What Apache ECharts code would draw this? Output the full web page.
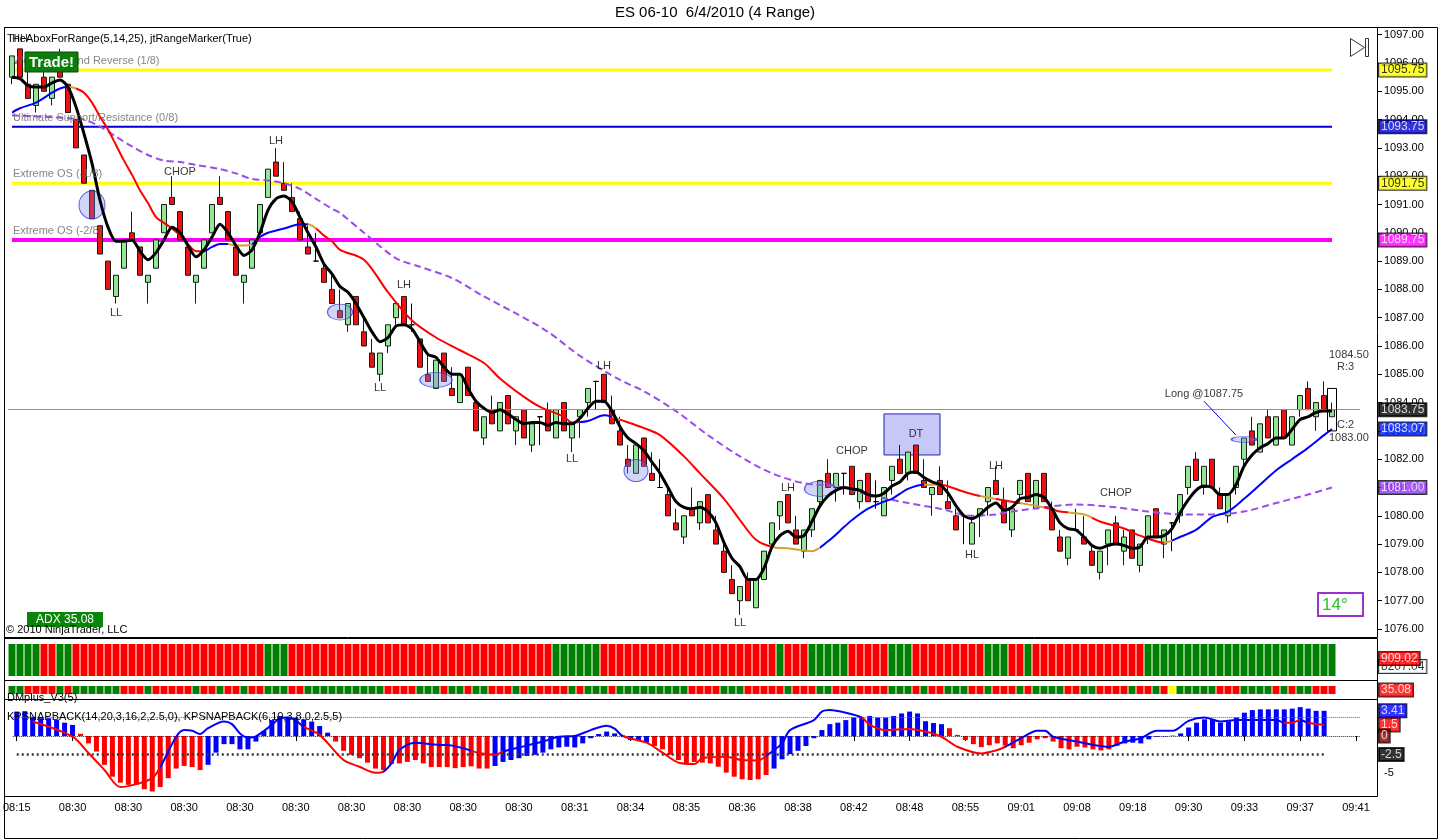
<!DOCTYPE html>
<html>
<head>
<meta charset="utf-8">
<title>ES 06-10 6/4/2010 (4 Range)</title>
<script src="https://cdn.jsdelivr.net/npm/echarts@6/dist/echarts.min.js"></script>
<style>
html,body{margin:0;padding:0;background:#ffffff;}
#chart{width:1440px;height:840px;}
</style>
</head>
<body>
<div id="chart"></div>
<script>
// ================= DATA =================
const chartTitle = 'ES 06-10  6/4/2010 (4 Range)';
const tickLabels = ['08:15','08:30','08:30','08:30','08:30','08:30','08:30','08:30','08:30','08:30',
  '08:31','08:34','08:35','08:36','08:38','08:42','08:48','08:55','09:01','09:08','09:18','09:30','09:33','09:37','09:41'];

// 4-range bars: [open, high, low, close]
const bars = [
 [1095.5,1096.25,1095.25,1096.25],[1096.5,1096.5,1095.5,1095.5],[1095.25,1095.75,1094.75,1094.75],[1094.5,1095.25,1094.25,1095.25],[1095.5,1096.0,1095.0,1095.0],
 [1094.75,1095.5,1094.5,1095.5],[1095.75,1096.5,1095.5,1095.5],[1095.25,1095.25,1094.25,1094.25],[1094.0,1094.0,1093.0,1093.0],[1092.75,1092.75,1091.75,1091.75],
 [1091.5,1091.5,1090.5,1090.5],[1090.25,1090.25,1089.25,1089.25],[1089.0,1089.0,1088.0,1088.0],[1087.75,1088.5,1087.5,1088.5],[1088.75,1089.75,1088.75,1089.75],
 [1090.0,1090.75,1089.75,1089.75],[1089.5,1089.5,1088.5,1088.5],[1088.25,1088.5,1087.5,1088.5],[1088.75,1089.75,1088.75,1089.75],[1090.0,1091.0,1090.0,1091.0],
 [1091.25,1092.0,1091.0,1091.0],[1090.75,1090.75,1089.75,1089.75],[1089.5,1089.5,1088.5,1088.5],[1088.25,1088.5,1087.5,1088.5],[1088.75,1089.75,1088.75,1089.75],
 [1090.0,1091.0,1090.0,1091.0],[1091.25,1092.0,1091.0,1091.0],[1090.75,1090.75,1089.75,1089.75],[1089.5,1089.5,1088.5,1088.5],[1088.25,1088.5,1087.5,1088.5],
 [1088.75,1089.75,1088.75,1089.75],[1090.0,1091.0,1090.0,1091.0],[1091.25,1092.25,1091.25,1092.25],[1092.5,1093.0,1092.0,1092.0],[1091.75,1092.5,1091.5,1091.5],
 [1091.25,1091.75,1090.75,1090.75],[1090.5,1090.75,1089.75,1089.75],[1089.5,1090.25,1089.25,1089.25],[1089.0,1090.0,1089.0,1089.0],[1088.75,1089.0,1088.25,1088.25],
 [1088.0,1088.5,1087.5,1087.5],[1087.25,1088.0,1087.0,1087.0],[1086.75,1087.5,1086.5,1087.5],[1087.75,1087.75,1086.75,1086.75],[1086.5,1087.0,1086.0,1086.0],
 [1085.75,1086.25,1085.25,1085.25],[1085.0,1085.75,1084.75,1085.75],[1086.0,1086.75,1085.75,1086.75],[1087.0,1087.5,1086.75,1087.5],[1087.75,1087.75,1086.75,1086.75],
 [1086.75,1087.5,1086.5,1086.75],[1086.25,1086.25,1085.25,1085.25],[1085.0,1085.75,1084.75,1084.75],[1084.5,1085.5,1084.5,1085.5],[1085.75,1085.75,1084.75,1084.75],
 [1084.5,1085.25,1084.25,1084.25],[1084.0,1085.0,1084.0,1085.0],[1085.25,1085.25,1084.25,1084.25],[1084.0,1084.0,1083.0,1083.0],[1082.75,1083.5,1082.5,1083.5],
 [1083.75,1084.25,1083.25,1083.25],[1083.0,1084.0,1083.0,1084.0],[1084.25,1084.25,1083.25,1083.25],[1083.0,1083.5,1082.5,1083.5],[1083.75,1083.75,1082.75,1082.75],
 [1082.5,1083.25,1082.25,1083.25],[1083.5,1083.5,1082.5,1083.5],[1083.75,1084.0,1083.0,1083.0],[1082.75,1083.75,1082.75,1083.75],[1084.0,1084.0,1083.0,1083.0],
 [1082.75,1083.25,1082.25,1083.25],[1083.5,1083.75,1082.75,1083.75],[1084.0,1084.5,1083.5,1084.5],[1084.75,1084.75,1083.75,1084.75],[1085.0,1085.0,1084.0,1084.0],
 [1083.75,1084.25,1083.25,1083.25],[1083.0,1083.5,1082.5,1082.5],[1082.0,1082.5,1081.5,1081.75],[1081.5,1082.5,1081.5,1082.5],[1082.75,1082.75,1081.75,1081.75],
 [1081.5,1082.25,1081.25,1081.25],[1081.0,1082.0,1081.0,1081.0],[1080.75,1081.0,1080.0,1080.0],[1079.75,1080.25,1079.5,1079.5],[1079.25,1080.0,1079.0,1080.0],
 [1080.25,1081.0,1080.0,1080.0],[1079.75,1080.5,1079.5,1080.5],[1080.75,1080.75,1079.75,1079.75],[1079.5,1080.0,1079.0,1079.0],[1078.75,1079.0,1078.0,1078.0],
 [1077.75,1078.25,1077.25,1077.25],[1077.0,1077.5,1076.5,1077.5],[1077.75,1078.0,1077.0,1077.0],[1076.75,1077.75,1076.75,1077.75],[1077.75,1078.75,1077.75,1078.75],
 [1079.0,1079.75,1078.75,1079.75],[1080.0,1080.5,1079.5,1080.5],[1080.75,1080.75,1079.75,1079.75],[1079.5,1080.0,1079.0,1079.0],[1078.75,1079.5,1078.5,1079.5],
 [1079.5,1080.25,1079.25,1080.25],[1080.5,1081.25,1080.25,1081.25],[1081.5,1082.0,1081.0,1081.0],[1081.0,1081.5,1080.5,1081.5],[1081.5,1081.5,1080.75,1081.5],
 [1081.75,1081.75,1080.75,1080.75],[1080.5,1081.25,1080.25,1081.25],[1081.5,1081.5,1080.5,1080.5],[1080.5,1081.25,1080.25,1080.5],[1080.0,1081.0,1080.0,1081.0],
 [1081.25,1081.75,1080.75,1081.75],[1082.0,1082.5,1081.5,1081.5],[1081.5,1082.25,1081.25,1082.25],[1082.5,1082.5,1081.5,1081.5],[1081.25,1082.0,1081.0,1081.0],
 [1080.75,1081.0,1080.0,1081.0],[1081.25,1081.75,1080.75,1080.75],[1080.5,1081.25,1080.25,1080.25],[1080.0,1080.25,1079.5,1079.5],[1080.0,1080.0,1079.0,1080.0],
 [1079.0,1080.0,1079.0,1079.75],[1080.0,1080.25,1079.25,1080.25],[1080.5,1081.0,1080.0,1081.0],[1081.25,1081.75,1080.75,1080.75],[1080.5,1081.0,1079.75,1079.75],
 [1079.5,1080.25,1079.25,1080.25],[1080.75,1081.25,1080.5,1081.25],[1081.5,1081.5,1080.5,1080.5],[1080.25,1081.25,1080.25,1081.25],[1081.5,1081.5,1080.5,1080.5],
 [1080.25,1080.5,1079.5,1079.5],[1079.25,1079.5,1078.75,1078.75],[1078.5,1079.25,1078.25,1079.25],[1079.5,1080.25,1079.5,1079.5],[1079.25,1080.0,1079.0,1079.0],
 [1078.75,1079.0,1078.25,1078.25],[1078.0,1078.75,1077.75,1078.75],[1079.0,1079.5,1078.25,1079.5],[1079.75,1080.0,1079.0,1079.0],[1078.75,1079.5,1078.25,1079.25],
 [1079.5,1079.5,1078.5,1078.5],[1078.25,1079.0,1078.0,1079.0],[1079.25,1080.0,1079.0,1080.0],[1080.25,1080.25,1079.25,1079.25],[1079.0,1079.5,1078.5,1079.5],
 [1079.75,1079.75,1078.75,1079.75],[1080.0,1080.75,1079.75,1080.75],[1081.0,1081.75,1080.75,1081.75],[1082.0,1082.25,1081.25,1081.25],[1081.0,1081.75,1080.75,1081.75],
 [1082.0,1082.0,1081.0,1081.0],[1080.75,1081.0,1080.25,1080.25],[1080.0,1080.75,1079.75,1080.75],[1081.0,1081.75,1080.75,1081.75],[1082.0,1082.75,1081.75,1082.75],
 [1083.0,1083.5,1082.5,1082.5],[1082.25,1083.25,1082.25,1083.25],[1083.5,1083.75,1082.75,1082.75],[1082.5,1083.5,1082.5,1083.5],[1083.75,1083.75,1082.75,1082.75],
 [1082.5,1083.5,1082.5,1083.5],[1083.75,1084.25,1083.5,1084.25],[1084.5,1084.75,1083.75,1083.75],[1083.5,1084.0,1083.0,1084.0],[1084.25,1084.75,1083.75,1083.75],
 [1083.5,1084.0,1083.5,1083.75]
];

// fast moving average (black), one value per bar
const fastMA = [
 1095.5,1095.45,1095.2,1095.15,1095.15,1095.3,1095.4,1095.15,1094.45,1093.5,
 1092.45,1091.15,1090.2,1089.7,1089.7,1089.75,1089.35,1089.05,1089.3,1089.75,
 1090.2,1090.0,1089.55,1089.15,1089.4,1089.85,1090.3,1090.0,1089.55,1089.2,
 1089.4,1090.0,1090.8,1091.2,1091.3,1091.1,1090.55,1090.0,1089.5,1088.9,
 1088.55,1088.1,1087.9,1087.5,1087.0,1086.5,1086.15,1086.3,1086.7,1086.75,
 1086.6,1086.15,1085.7,1085.6,1085.25,1085.0,1085.0,1084.5,1084.05,1083.8,
 1083.65,1083.75,1083.6,1083.4,1083.25,1083.3,1083.3,1083.2,1083.3,1083.25,
 1083.25,1083.45,1083.8,1084.05,1084.05,1083.7,1083.15,1082.75,1082.55,1082.3,
 1081.9,1081.5,1081.0,1080.5,1080.3,1080.25,1080.3,1080.15,1079.75,1079.05,
 1078.5,1078.2,1077.75,1077.75,1078.15,1078.9,1079.3,1079.45,1079.25,1079.3,
 1079.8,1080.35,1080.7,1080.9,1081.0,1080.95,1080.9,1080.75,1080.7,1080.8,
 1081.05,1081.2,1081.5,1081.55,1081.35,1081.2,1081.1,1080.8,1080.35,1080.0,
 1079.9,1080.05,1080.3,1080.45,1080.2,1080.3,1080.6,1080.65,1080.75,1080.65,
 1080.25,1079.75,1079.55,1079.5,1079.25,1078.95,1078.85,1078.95,1079.0,1078.95,
 1078.85,1078.9,1079.25,1079.25,1079.3,1079.55,1080.1,1080.55,1080.9,1081.05,
 1081.0,1080.75,1080.75,1081.1,1081.75,1082.15,1082.4,1082.55,1082.75,1082.75,
 1083.05,1083.4,1083.5,1083.65,1083.7,1083.7
];

// trend moving average (blue rising / red falling / orange flat): [bar, price]
const trendMA = [[0,1094.25],[1,1094.4],[3,1094.6],[5,1094.95],[6,1095.1],[7,1095.15],[8,1095.1],[9,1094.95],[10,1094.6],[11,1094.1],
 [12,1093.65],[13,1093.1],[14,1092.55],[15,1092.05],[16,1091.5],[17,1091.05],[18,1090.55],[19,1090.35],[20,1090.15],[21,1089.9],
 [22,1089.6],[23,1089.35],[24,1089.35],[25,1089.5],[26,1089.6],[27,1089.6],[28,1089.55],[29,1089.55],[30,1089.6],[31,1089.85],
 [32,1090.0],[34,1090.15],[36,1090.3],[37,1090.3],[38,1090.15],[39,1089.9],[40,1089.7],[41,1089.4],[44,1089.05],[47,1087.9],
 [50,1086.9],[53,1086.3],[56,1085.85],[59,1085.4],[61,1084.85],[64,1084.2],[66,1083.85],[69,1083.5],[70,1083.3],[72,1083.35],
 [74,1083.55],[75,1083.5],[76,1083.4],[79,1083.1],[81,1082.85],[84,1082.1],[86,1081.5],[89,1080.6],[91,1079.85],[93,1079.15],
 [95,1078.9],[97,1078.85],[100,1078.75],[102,1079.1],[104,1079.6],[105,1079.85],[107,1080.25],[109,1080.5],[110,1080.6],[112,1080.95],
 [114,1081.1],[116,1081.1],[119,1080.85],[121,1080.7],[125,1080.5],[129,1080.3],[131,1080.15],[134,1080.05],[136,1079.8],[139,1079.55],
 [141,1079.3],[144,1079.05],[146,1079.25],[148,1079.5],[150,1079.95],[152,1080.15],[154,1080.6],[156,1081.1],[158,1081.6],[160,1082.0],
 [162,1082.4],[164,1082.85],[165,1083.07]];
// colour state of the trend average over bar ranges: [from, to, B|R|O]
const trendState = [[0,7,'B'],[7,8,'O'],[8,23.5,'R'],[23.5,27,'B'],[27,30,'O'],[30,37,'B'],[37,38,'O'],[38,71,'R'],[71,74.5,'B'],
 [74.5,75.5,'O'],[75.5,95,'R'],[95,100.5,'O'],[100.5,114,'B'],[114,115.5,'O'],[115.5,121,'R'],[121,123,'O'],[123,126,'R'],
 [126,129,'O'],[129,132,'R'],[132,135,'O'],[135,143.5,'R'],[143.5,145,'O'],[145,170,'B']];

// slow moving average (purple dashed): [bar, price]
const slowMA = [[0,1094.15],[4,1094.1],[7,1094.05],[9,1094.0],[11,1093.75],[13,1093.4],[15,1093.05],[17,1092.75],[19,1092.55],[21,1092.5],
 [23,1092.4],[26,1092.25],[28,1092.1],[30,1091.9],[32,1091.85],[34,1091.75],[36,1091.55],[38,1091.2],[40,1090.85],[41,1090.7],
 [44,1090.0],[48,1089.1],[51,1088.8],[55,1088.4],[59,1087.75],[63,1087.15],[67,1086.5],[71,1085.65],[76,1084.8],[79,1084.4],
 [83,1083.7],[87,1082.85],[91,1082.1],[95,1081.5],[99,1081.15],[103,1081.05],[107,1080.75],[112,1080.45],[116,1080.25],[120,1080.0],
 [123,1080.05],[125,1080.15],[129,1080.3],[133,1080.4],[138,1080.3],[142,1080.15],[146,1080.05],[150,1080.05],[154,1080.15],[158,1080.45],
 [162,1080.75],[165,1081.0]];

// Murrey-type levels
const levelPrices = [1095.75, 1093.75, 1091.75, 1089.75];
const levelNames = ['Weak, Stall and Reverse (1/8)', 'Ultimate Support/Resistance (0/8)', 'Extreme OS (-1/8)', 'Extreme OS (-2/8)'];
const lastPrice = 1083.75;
const trendLast = 1083.07;
const slowLast = 1081.00;
const rangeHigh = 1084.5, rangeLow = 1083.0;
const dtBox = [109, 1083.6, 116, 1082.15];

// text marks on the price panel: [text, bar, price]
const annotations = [['HH',1,1096.85],['LL',13,1087.15],['CHOP',21,1092.15],['LH',33,1093.25],['LL',46,1084.5],['LH',49,1088.15],
 ['LL',70,1082.0],['LH',74,1085.3],['LL',91,1076.2],['LH',97,1081.0],['CHOP',105,1082.3],['DT',113,1082.9],['HL',120,1078.6],
 ['LH',123,1081.75],['CHOP',138,1080.8],['Long @1087.75',149,1084.3]];
const rangeTexts = [['1084.50',165,1085.68],['R:3',165,1085.26],['C:2',165,1083.21],['1083.00',165,1082.75]];
const ellipses = [[10,1090.98],[41,1087.2],[53,1084.8],[78,1081.6],[101,1080.95],[154,1082.7]];
const longArrow = [[149,1084.05],[153,1082.85]];

// colour-bar panel (G/R) and DMplus squares (G/R/Y) as runs [count, state]
const trendRuns = [[4,'G'],[2,'R'],[2,'G'],[24,'R'],[3,'G'],[33,'R'],[6,'G'],[22,'R'],[1,'G'],[3,'R'],[5,'G'],[5,'R'],
 [3,'G'],[9,'R'],[3,'G'],[2,'R'],[1,'G'],[14,'R'],[24,'G']];
const dmRuns = [[2,'G'],[4,'R'],[1,'G'],[1,'R'],[6,'G'],[3,'R'],[1,'G'],[5,'R'],[1,'G'],[2,'R'],[1,'G'],[2,'R'],[1,'G'],[2,'R'],
 [3,'G'],[2,'R'],[10,'G'],[4,'R'],[3,'G'],[1,'R'],
 [2,'G'],[1,'R'],[2,'G'],[3,'R'],[1,'G'],[1,'R'],[1,'G'],[4,'R'],[1,'G'],[1,'R'],[3,'G'],[1,'R'],[9,'G'],[4,'R'],[3,'G'],
 [5,'R'],[1,'G'],[3,'R'],[2,'G'],[2,'R'],[1,'G'],[4,'R'],
 [3,'G'],[1,'R'],[1,'G'],[2,'R'],[3,'G'],[2,'R'],[1,'G'],[3,'R'],[1,'G'],[1,'R'],[4,'G'],[2,'R'],[2,'G'],[4,'R'],[1,'G'],
 [2,'R'],[1,'G'],[1,'R'],[1,'Y'],[5,'G'],[3,'R'],[4,'G'],[1,'R'],[1,'G'],[1,'R'],[2,'G'],[3,'R']];

// KPSNAPBACK histogram (one value per bar) and its colour runs
const snapHist = [
 3.3,3.35,2.6,2.4,2.4,2.2,1.8,1.5,0.3,-1.0,
 -2.1,-3.9,-5.5,-6.3,-6.6,-6.6,-7.2,-7.7,-6.9,-5.7,
 -4.4,-4.05,-4.2,-4.6,-3.9,-2.25,-1.1,-1.1,-1.8,-1.8,
 -0.75,0.7,2.15,2.7,2.6,2.5,2.25,1.95,1.35,0.45,
 -0.75,-2.0,-2.55,-3.0,-3.6,-4.4,-4.6,-3.8,-3.7,-3.5,
 -3.25,-3.7,-4.2,-4.2,-4.2,-4.35,-4.2,-4.1,-4.4,-4.4,
 -4.05,-3.5,-3.25,-3.0,-2.7,-2.55,-2.25,-1.8,-1.55,-1.45,
 -1.55,-1.0,-0.3,0.27,0.6,0.35,0.1,-0.55,-0.6,-0.9,
 -1.35,-1.8,-2.55,-3.25,-3.7,-3.5,-3.6,-3.7,-4.15,-4.95,
 -5.5,-5.85,-5.95,-5.85,-5.27,-4.4,-3.15,-2.45,-2.0,-1.35,
 -0.3,0.8,1.6,1.8,2.15,2.5,2.5,2.7,2.5,2.5,
 2.7,3.05,3.3,3.05,2.0,1.75,1.6,1.05,0.15,-0.55,
 -1.1,-1.5,-1.25,-1.0,-1.3,-1.65,-1.25,-0.9,-0.45,-0.3,
 -0.75,-1.65,-1.8,-1.45,-1.55,-1.8,-1.95,-1.8,-1.35,-1.0,
 -0.9,-1.0,-0.45,-0.1,-0.05,0.05,0.35,1.15,1.8,2.25,
 2.25,1.8,2.0,2.5,3.15,3.5,3.6,3.6,3.6,3.6,
 3.7,3.9,3.7,3.4,3.41,null
];
const snapHistRuns = [[8,'B'],[16,'R'],[16,'B'],[20,'R'],[16,'B'],[1,'R'],[3,'B'],[15,'R'],[22,'B'],[22,'R'],[26,'B']];
// KPSNAPBACK signal line: [bar, value] and colour state ranges
const snapLine = [[2,1.95],[7,-0.1],[9,-2.3],[11,-4.6],[13,-6.9],[15,-6.5],[17,-5.7],[18,-4.2],[20,-0.1],[21,0.8],
 [22,0.7],[23,0.27],[24,1.05],[26,1.95],[27,1.6],[28,0.35],[29,-0.2],[30,-0.05],[32,1.5],[33,2.4],
 [34,2.5],[35,2.1],[36,1.25],[38,0.15],[41,-3.25],[43,-4.15],[45,-4.95],[46,-4.8],[47,-3.7],[48,-1.9],
 [50,-0.9],[53,-1.2],[54,-1.2],[56,-1.65],[58,-2.3],[60,-2.55],[61,-2.1],[63,-1.55],[66,-0.75],[68,-0.1],
 [70,0.0],[72,0.8],[74,1.4],[75,1.0],[76,0.0],[79,-0.9],[81,-2.25],[83,-3.6],[85,-3.8],[86,-3.0],
 [89,-2.8],[91,-3.25],[93,-3.3],[94,-2.7],[96,-1.0],[97,0.8],[100,2.15],[101,3.3],[102,3.5],[104,3.15],
 [106,2.5],[107,1.5],[109,0.8],[112,0.95],[114,0.6],[116,-0.1],[118,-1.45],[121,-2.35],[123,-1.9],[124,-1.45],
 [126,-0.3],[128,0.7],[129,0.7],[130,-0.1],[133,-0.75],[135,-1.2],[137,-1.45],[139,-0.75],[141,-0.3],[143,0.7],
 [145,0.7],[147,2.05],[149,2.5],[151,1.95],[153,2.15],[158,2.15],[159,1.8],[160,1.8],[161,2.15],[162,1.8],[164,1.5]];
const snapLineState = [[0,17.5,'R'],[17.5,35.5,'B'],[35.5,46,'R'],[46,56.5,'B'],[56.5,61,'R'],[61,75.5,'B'],[75.5,93.5,'R'],
 [93.5,106,'B'],[106,123.5,'R'],[123.5,158.5,'B'],[158.5,160.5,'R'],[160.5,161.5,'B'],[161.5,170,'R']];
const snapLevels = [2.5, 0, -2.5];
const panelTags = {trend: [909.02, 8207.04], dm: 35.08, snap: [3.41, 1.5, 0, -2.5]};

// ================= CHART =================
const FONT = 'Liberation Sans, Arial, sans-serif';
const NSLOT = 169;
const cats = Array.from({length: NSLOT}, (_, i) => String(i));
const expand = runs => runs.reduce((a, r) => a.concat(Array(r[0]).fill(r[1])), []);
const stateColor = {G:'#008000', R:'#FF0000', Y:'#FFFF00', B:'#0000FF', O:'#D4A030'};
const levelColors = ['#FFFF00', '#0000CD', '#FFFF00', '#FF00FF'];
const levelWidths = [3, 2, 3, 4];

const L = 8, W = 1352;
const grids = [
  {left:L, width:W, top:34.7, height:594.3},
  {left:L, width:W, top:644, height:32},
  {left:L, width:W, top:686, height:8},
  {left:L, width:W, top:699, height:92.5}
];

const xAxis = grids.map((g, k) => ({
  gridIndex:k, type:'category', data:cats, boundaryGap:true,
  offset: k === 3 ? 4.5 : 0,
  axisLine:{show:false},
  axisTick:{show:k === 3, alignWithLabel:true, interval:6, length:5, lineStyle:{color:'#000'}},
  axisLabel:{show:k === 3, interval:6, color:'#000', fontSize:11, fontFamily:FONT, margin:6,
    formatter:(v, idx) => (idx % 7 === 0 ? (tickLabels[idx / 7] || '') : '')},
  splitLine:{show:false}
}));

const yAxis = [
  {gridIndex:0, type:'value', position:'right', offset:17, min:1076, max:1097, interval:1,
   axisLine:{show:false}, axisTick:{show:true, length:5, lineStyle:{color:'#000'}},
   axisLabel:{formatter:v => v.toFixed(2), color:'#000', fontSize:11, fontFamily:FONT, margin:7},
   splitLine:{show:false}},
  {gridIndex:1, type:'value', min:0, max:1, show:false},
  {gridIndex:2, type:'value', min:0, max:1, show:false},
  {gridIndex:3, type:'value', position:'right', offset:17, min:-7.5, max:5, interval:2.5,
   axisLine:{show:false}, axisTick:{show:false},
   axisLabel:{formatter:v => (v === -5 ? '-5' : ''), color:'#000', fontSize:11, fontFamily:FONT, margin:7},
   splitLine:{show:false}}
];

const series = [];
// level lines
levelPrices.forEach((p, k) => {
  series.push({type:'line', xAxisIndex:0, yAxisIndex:0, data:[[0, p], [165, p]], symbol:'none', silent:true, z:1,
    lineStyle:{color:levelColors[k], width:levelWidths[k]}});
});
// candles
series.push({
  type:'candlestick', name:'ES', xAxisIndex:0, yAxisIndex:0, z:2, barWidth:6,
  data: bars.map(b => [b[0], b[3], b[2], b[1]]),
  itemStyle:{color:'#90E890', color0:'#F01010', borderColor:'#1A1A1A', borderColor0:'#1A1A1A', borderColorDoji:'#000', borderWidth:1},
  markLine:{silent:true, symbol:'none', label:{show:false}, lineStyle:{color:'#B88080', width:1, type:'solid'},
    data:[{yAxis:lastPrice}]},
  markArea:{silent:true, itemStyle:{color:'rgba(130,130,240,0.45)', borderColor:'#2020C0', borderWidth:1},
    data:[[{coord:[dtBox[0], dtBox[1]]}, {coord:[dtBox[2], dtBox[3]]}]]}
});
// ellipses + long arrow
const ellSizes = [[26,28],[25,16],[32,15],[24,22],[31,15],[25,6]];
series.push({
  type:'scatter', xAxisIndex:0, yAxisIndex:0, z:3, silent:true,
  data: ellipses.map((e, k) => ({value:e, symbolSize:ellSizes[k]})),
  symbol:'circle',
  itemStyle:{color:'rgba(120,130,235,0.42)', borderColor:'#3040E0', borderWidth:1},
  markLine:{silent:true, symbol:['none','arrow'], symbolSize:[0,16], label:{show:false},
    lineStyle:{color:'#0000FF', width:1, type:'solid'},
    data:[[{coord:longArrow[0]}, {coord:longArrow[1]}]]}
});
// slow MA (purple dashed)
series.push({type:'line', xAxisIndex:0, yAxisIndex:0, z:4, data:slowMA, smooth:0.3, symbol:'none', silent:true,
  lineStyle:{color:'#9B4DEB', width:2, type:[7,4]}});
// trend MA (coloured)
const trendIdx = series.length;
series.push({type:'line', xAxisIndex:0, yAxisIndex:0, z:5, data:trendMA, smooth:0.3, symbol:'none', silent:true,
  lineStyle:{width:2}});
// fast MA (black)
series.push({type:'line', xAxisIndex:0, yAxisIndex:0, z:6, data:fastMA, smooth:0.25, symbol:'none', silent:true,
  lineStyle:{color:'#000', width:3}});
// range marker box on the last bar
series.push({type:'candlestick', xAxisIndex:0, yAxisIndex:0, z:6, barWidth:9, silent:true,
  data: bars.map((b, i) => (i === bars.length - 1 ? [rangeHigh, rangeLow, rangeLow, rangeHigh] : '-')),
  itemStyle:{color:'rgba(0,0,0,0)', color0:'rgba(0,0,0,0)', borderColor:'#000', borderColor0:'#000', borderWidth:1}});
// texts
const textItems = [];
annotations.forEach(a => textItems.push({value:[a[1], a[2]], label:{formatter:a[0], position:'inside'}}));
rangeTexts.forEach((t, k) => textItems.push({value:[t[1], t[2]],
  label:{formatter:t[0], position:'right', distance:(t[0].indexOf(':') > 0 ? 5 : -3)}}));
levelPrices.forEach((p, k) => textItems.push({value:[0, p],
  label:{formatter:levelNames[k], position:'right', distance:1, offset:[0,-9], color:'#666'}}));
series.push({type:'scatter', xAxisIndex:0, yAxisIndex:0, z:10, silent:true, symbolSize:0, data:textItems,
  label:{show:true, color:'#000', fontSize:11, fontFamily:FONT}});
// price tags on the axis
const tag = (v, bg, fg, txt) => ({value:[NSLOT - 1, v], label:{formatter:txt, backgroundColor:bg, color:fg}});
const mainTags = [
  tag(levelPrices[0], '#FFFF00', '#000', levelPrices[0].toFixed(2)),
  tag(levelPrices[1], '#0000CD', '#fff', levelPrices[1].toFixed(2)),
  tag(levelPrices[2], '#FFFF00', '#000', levelPrices[2].toFixed(2)),
  tag(levelPrices[3], '#FF00FF', '#fff', levelPrices[3].toFixed(2)),
  tag(lastPrice, '#000', '#fff', lastPrice.toFixed(2)),
  tag(trendLast, '#0022FF', '#fff', trendLast.toFixed(2)),
  tag(slowLast, '#9933FF', '#fff', slowLast.toFixed(2))
];
const tagLabel = {show:true, position:'right', distance:23, fontSize:12, fontFamily:FONT,
  borderColor:'#000', borderWidth:1, padding:[1,2,0,2]};
series.push({type:'scatter', xAxisIndex:0, yAxisIndex:0, z:12, silent:true, symbolSize:0, data:mainTags, label:tagLabel});

// panel A: trend colour bars
series.push({type:'bar', xAxisIndex:1, yAxisIndex:1, barWidth:7, silent:true,
  data: expand(trendRuns).map(s => ({value:1, itemStyle:{color:stateColor[s]}}))});
series.push({type:'scatter', xAxisIndex:1, yAxisIndex:1, z:12, silent:true, symbolSize:0, label:tagLabel,
  data:[tag(0.30, '#fff', '#000', panelTags.trend[1].toFixed(2)), tag(0.55, '#FF0000', '#fff', panelTags.trend[0].toFixed(2))]});
// panel B: DMplus squares
series.push({type:'bar', xAxisIndex:2, yAxisIndex:2, barWidth:7, silent:true,
  data: expand(dmRuns).map(s => ({value:1, itemStyle:{color:stateColor[s]}}))});
series.push({type:'scatter', xAxisIndex:2, yAxisIndex:2, z:12, silent:true, symbolSize:0, label:tagLabel,
  data:[tag(0.5, '#FF0000', '#fff', panelTags.dm.toFixed(2))]});
// panel C: KPSNAPBACK histogram
const histStates = expand(snapHistRuns);
series.push({type:'bar', xAxisIndex:3, yAxisIndex:3, barWidth:5, silent:true,
  data: snapHist.map((v, i) => (v === null ? '-' : {value:v, itemStyle:{color:stateColor[histStates[i]]}})),
  markLine:{silent:true, symbol:'none', label:{show:false},
    data:[
      {yAxis:snapLevels[0], lineStyle:{type:'dotted', color:'#666', width:1}},
      {yAxis:snapLevels[1], lineStyle:{type:'dotted', color:'#222', width:1}},
      [{coord:[0, snapLevels[2]], lineStyle:{type:[2,3], color:'#333', width:2.5}}, {coord:[164, snapLevels[2]]}]
    ]}});
const snapIdx = series.length;
series.push({type:'line', xAxisIndex:3, yAxisIndex:3, data:snapLine, smooth:0.3, symbol:'none', silent:true, z:5,
  lineStyle:{width:2}});
series.push({type:'scatter', xAxisIndex:3, yAxisIndex:3, z:12, silent:true, symbolSize:0, label:tagLabel,
  data:[tag(panelTags.snap[0], '#0000FF', '#fff', String(panelTags.snap[0])),
        tag(panelTags.snap[1], '#FF0000', '#fff', String(panelTags.snap[1])),
        tag(panelTags.snap[2], '#8B0000', '#fff', String(panelTags.snap[2])),
        tag(panelTags.snap[3], '#000', '#fff', String(panelTags.snap[3]))]});

const pieces = st => st.map(s => ({gte:s[0], lt:s[1], color:stateColor[s[2]]}));

const frame = (x, y, w, h) => ({type:'rect', z:100, silent:true,
  shape:{x:x + 0.5, y:y + 0.5, width:w, height:h}, style:{fill:'none', stroke:'#000', lineWidth:1}});
const txt = (x, y, s, extra) => ({type:'text', z:110, silent:true, x:x, y:y,
  style:Object.assign({text:s, fill:'#000', font:'11px ' + FONT, textAlign:'left', textVerticalAlign:'middle'}, extra || {})});

const graphic = [
  frame(4, 27, 1433, 811),
  frame(4, 27, 1373, 610),
  frame(4, 638, 1373, 42),
  frame(4, 680, 1373, 19),
  frame(4, 699, 1373, 97),
  txt(715, 13, chartTitle, {font:'15px ' + FONT, textAlign:'center'}),
  txt(7, 39, 'TheAboxForRange(5,14,25), jtRangeMarker(True)'),
  {type:'rect', z:110, silent:true, shape:{x:25, y:52, width:53, height:20}, style:{fill:'#0B7D0B', stroke:'#0A4A0A', lineWidth:1}},
  txt(51.5, 62.5, 'Trade!', {fill:'#fff', font:'bold 15px ' + FONT, textAlign:'center'}),
  {type:'rect', z:110, silent:true, shape:{x:27, y:612, width:76, height:15}, style:{fill:'#0A850A'}},
  txt(65, 620, 'ADX 35.08', {fill:'#fff', font:'12px ' + FONT, textAlign:'center'}),
  txt(6, 629.5, '\u00A9 2010 NinjaTrader, LLC'),
  {type:'rect', z:110, silent:true, shape:{x:1318, y:593, width:45, height:23}, style:{fill:'#fff', stroke:'#9933CC', lineWidth:2}},
  txt(1322, 605, '14\u00B0', {fill:'#33BB33', font:'17px ' + FONT}),
  {type:'polygon', z:110, silent:true, shape:{points:[[1350.5,38.5],[1350.5,56.5],[1364.5,47.5]]}, style:{fill:'none', stroke:'#333', lineWidth:1}},
  {type:'rect', z:110, silent:true, shape:{x:1365.5, y:38.5, width:3, height:18}, style:{fill:'none', stroke:'#333', lineWidth:1}},
  txt(7, 697.5, 'DMplus_V3(5)'),
  txt(7, 717, 'KPSNAPBACK(14,20,3,16,2,2.5,0), KPSNAPBACK(6,10,3,8,0,2.5,5)')
];

const option = {
  animation:false,
  backgroundColor:'#ffffff',
  textStyle:{fontFamily:FONT},
  grid:grids,
  xAxis:xAxis,
  yAxis:yAxis,
  visualMap:[
    {type:'piecewise', show:false, dimension:0, seriesIndex:trendIdx, pieces:pieces(trendState)},
    {type:'piecewise', show:false, dimension:0, seriesIndex:snapIdx, pieces:pieces(snapLineState)}
  ],
  series:series,
  graphic:graphic
};

const chart = echarts.init(document.getElementById('chart'), null, {renderer:'canvas'});
chart.setOption(option);
</script>
</body>
</html>
